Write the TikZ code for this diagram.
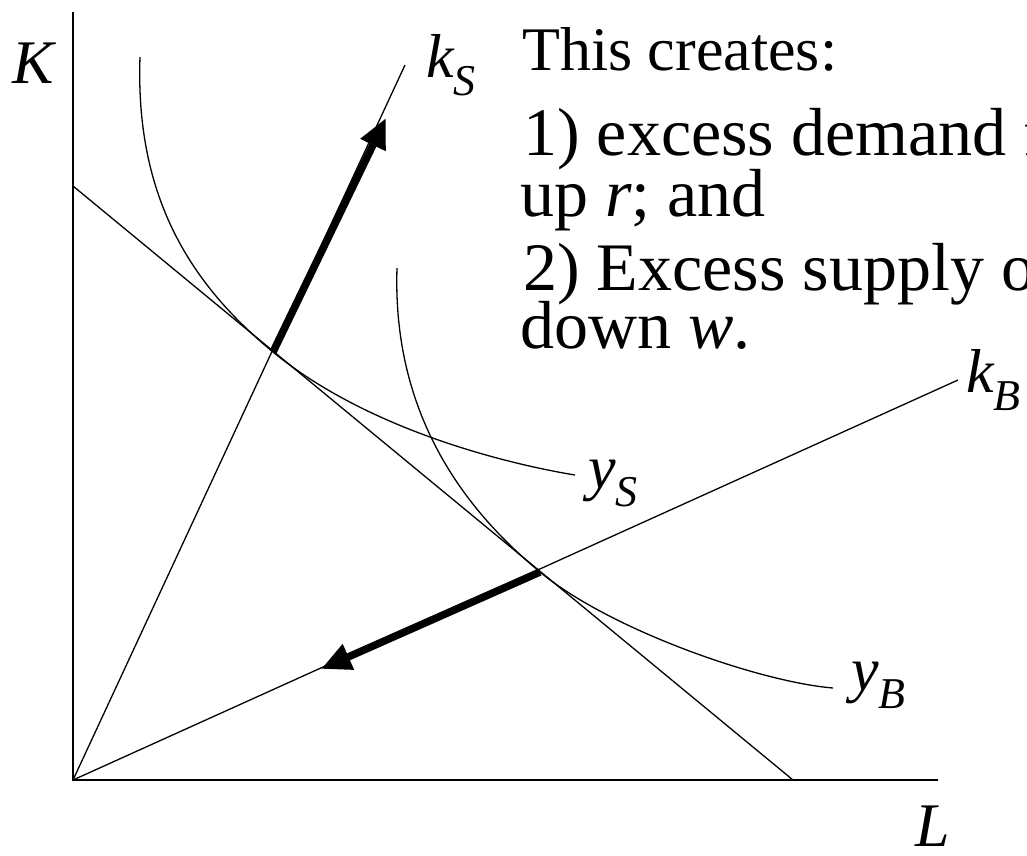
\documentclass[tikz,border=0pt]{standalone}
\usepackage{fontspec}
\setmainfont{Liberation Serif}
\usetikzlibrary{arrows.meta}
\newcommand{\mysub}[1]{\raisebox{-0.3em}{\fontsize{44}{44}\selectfont #1}}
\begin{document}
\begin{tikzpicture}[x=1pt,y=-1pt,
  thinline/.style={line width=1.3pt},
  axisline/.style={line width=1.8pt},
  thickarrow/.style={line width=7.5pt,-{Triangle[length=30pt,width=26pt]}},
  headtext/.style={anchor=base west,inner sep=0pt,font=\fontsize{62}{62}\selectfont},
  bodytext/.style={anchor=base west,inner sep=0pt,font=\fontsize{68}{68}\selectfont},
  lbl/.style={anchor=base west,inner sep=0pt,font=\fontsize{62}{62}\selectfont\itshape}]
\useasboundingbox (0,0) rectangle (1027,855);
\clip (0,0) rectangle (1027,855);
% key points
\coordinate (O) at (73,780);
\coordinate (Ktop) at (73,12);
\coordinate (Lend) at (938,780);
\coordinate (BK) at (73,186);
\coordinate (BL) at (793,780);
\coordinate (KSend) at (405,65);
\coordinate (KBend) at (958,380);
\coordinate (TS) at (273,352);
\coordinate (TB) at (540,572);
\coordinate (ASend) at (386,118);
\coordinate (ABend) at (321,669);
\coordinate (YSa) at (140,57);
\coordinate (YSb) at (575,475);
\coordinate (YBa) at (397,268);
\coordinate (YBb) at (833,688);
% axes
\draw[axisline] (Ktop) -- (O) -- (Lend);
% budget line and rays
\draw[thinline] (BK) -- (BL);
\draw[thinline] (O) -- (KSend);
\draw[thinline] (O) -- (KBend);
% isoquants
\draw[thinline] (YSa) .. controls (135,200) and (193,286) .. (TS)
  .. controls (373,434) and (520,466) .. (YSb);
\draw[thinline] (YBa) .. controls (392,420) and (470,514) .. (TB)
  .. controls (610,630) and (760,682) .. (YBb);
% thick arrows
\draw[thickarrow] (TS) -- (ASend);
\draw[thickarrow] (TB) -- (ABend);
% labels
\node[lbl] (K) at (12,83) {K};
\node[lbl] (L) at (915,846) {L};
\node[lbl] (kS) at (426,77) {k\mysub{S}};
\node[lbl] (kB) at (966,392) {k\mysub{B}};
\node[lbl] (yS) at (588,488) {y\mysub{S}};
\node[lbl] (yB) at (851,690) {y\mysub{B}};
% text
\node[headtext] (t0) at (522,70) {This creates:};
\node[bodytext] (t1) at (523,155) {1) excess demand f};
\node[bodytext] (t2) at (520,216) {up \textit{r}; and};
\node[bodytext] (t3) at (523,290) {2) Excess supply o};
\node[bodytext] (t4) at (520,348) {down \textit{w}.};
\end{tikzpicture}
\end{document}
